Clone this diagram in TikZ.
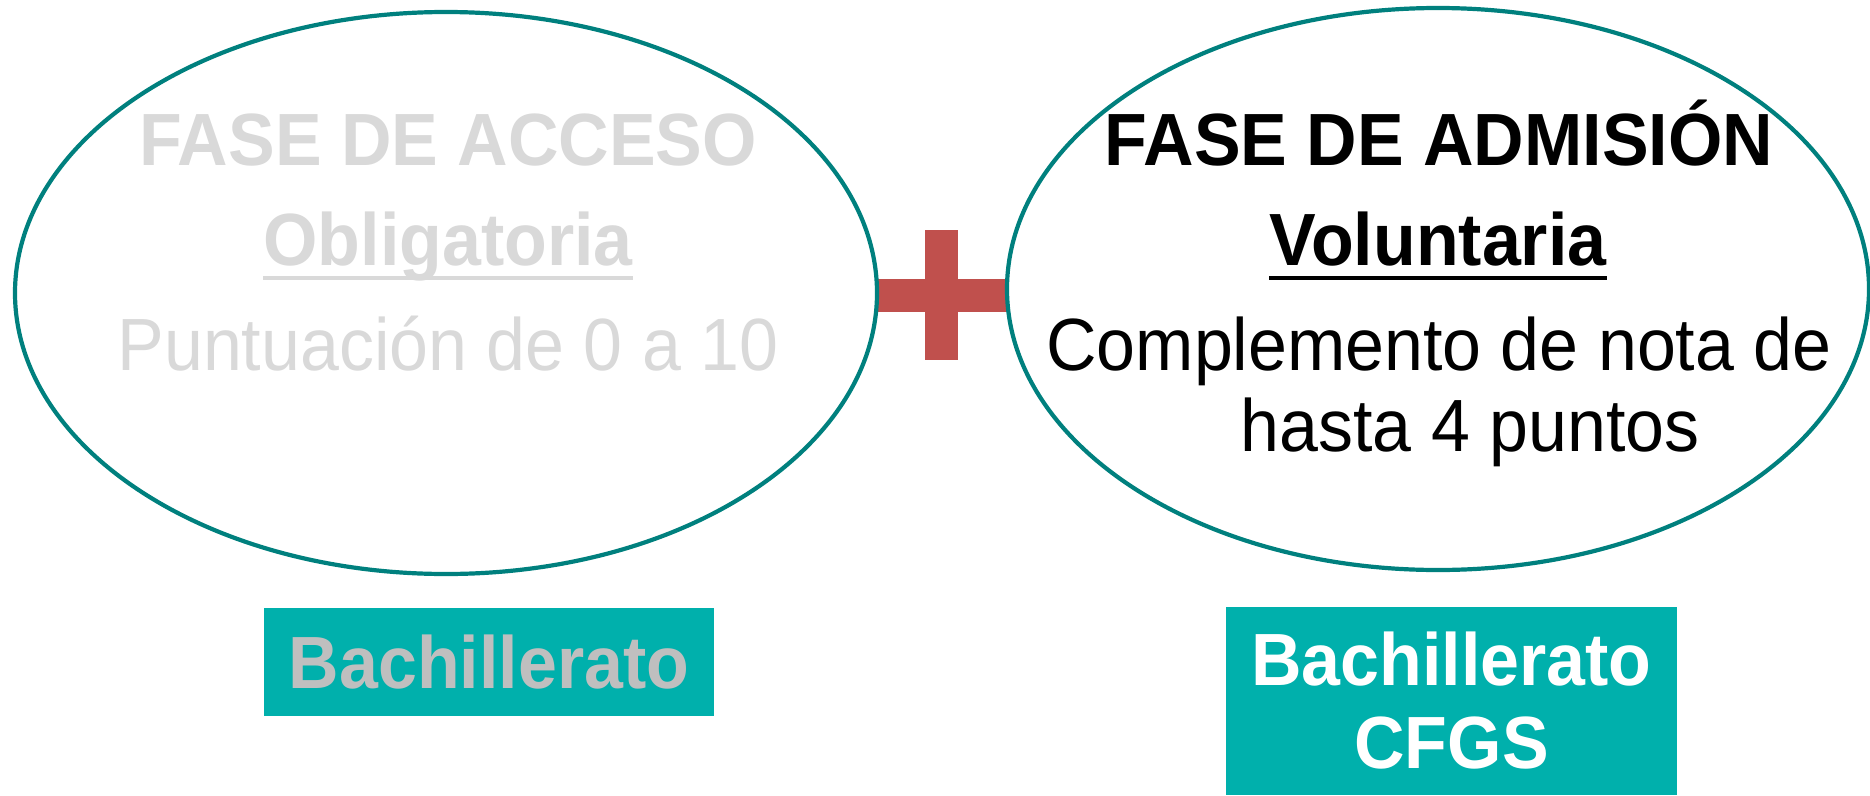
\documentclass[tikz,border=0pt]{standalone}
\usepackage{fontspec}
\setmainfont[FakeStretch=0.945]{Liberation Sans}
\usetikzlibrary{shapes.geometric,positioning}
\definecolor{tealline}{HTML}{00807E}
\definecolor{boxteal}{HTML}{00B0AC}
\definecolor{plusred}{HTML}{C0504D}
\definecolor{fadegray}{HTML}{D9D9D9}
\definecolor{boxgray}{HTML}{BFBFBF}
\tikzset{
  phase/.style={ellipse, draw=tealline, line width=4.2pt, fill=white,
    minimum width=862pt, minimum height=562pt, inner sep=0pt},
  txt/.style={inner sep=0pt, anchor=base, font=\fontsize{74}{84}\selectfont},
  btxt/.style={inner sep=0pt, anchor=base, font=\fontsize{74}{84}\selectfont\bfseries},
  uline/.style={line width=4.5pt},
  tagbox/.style={fill=boxteal, inner sep=0pt, align=center,
    font=\fontsize{74}{83}\selectfont\bfseries},
}
\begin{document}
\begin{tikzpicture}[x=1pt,y=-1pt]
	  \useasboundingbox (0,0) rectangle (1870,795);
	  % plus sign
	  \fill[plusred] (877,279) rectangle (1008,312);
	  \fill[plusred] (925,230) rectangle (958,360);

	  \node[phase] (acceso) at (446,293) {};
	  \node[phase] (admision) at (1438,289) {};

	  % fase de acceso
	  \node[btxt, fadegray] (acctitle) at (448,165) {FASE DE ACCESO};
	  \node[btxt, fadegray] (oblig) at (448,265) {Obligatoria};
	  \node[txt, fadegray] (punt) at (448,370) {Puntuación de 0 a 10};
	  \draw[uline, fadegray] ([yshift=-13pt]oblig.base west) -- ([yshift=-13pt]oblig.base east);

	  % fase de admision
	  \node[btxt] (admtitle) at (1439,165) {FASE DE ADMISIÓN};
	  \node[btxt] (volun) at (1438,265) {Voluntaria};
	  \node[txt] (compl) at (1439,370) {Complemento de nota de};
	  \node[txt] (hasta) at (1470,451) {hasta 4 puntos};
	  \draw[uline] ([yshift=-13pt]volun.base west) -- ([yshift=-13pt]volun.base east);

	  % who takes each phase
	  \node[tagbox, text=boxgray, minimum width=450pt, minimum height=108pt] (bachA) at (489,662) {Bachillerato};
	  \node[tagbox, text=white, minimum width=451pt, minimum height=188pt] (bachB) at (1451.5,701) {Bachillerato\\CFGS};
\end{tikzpicture}
\end{document}
